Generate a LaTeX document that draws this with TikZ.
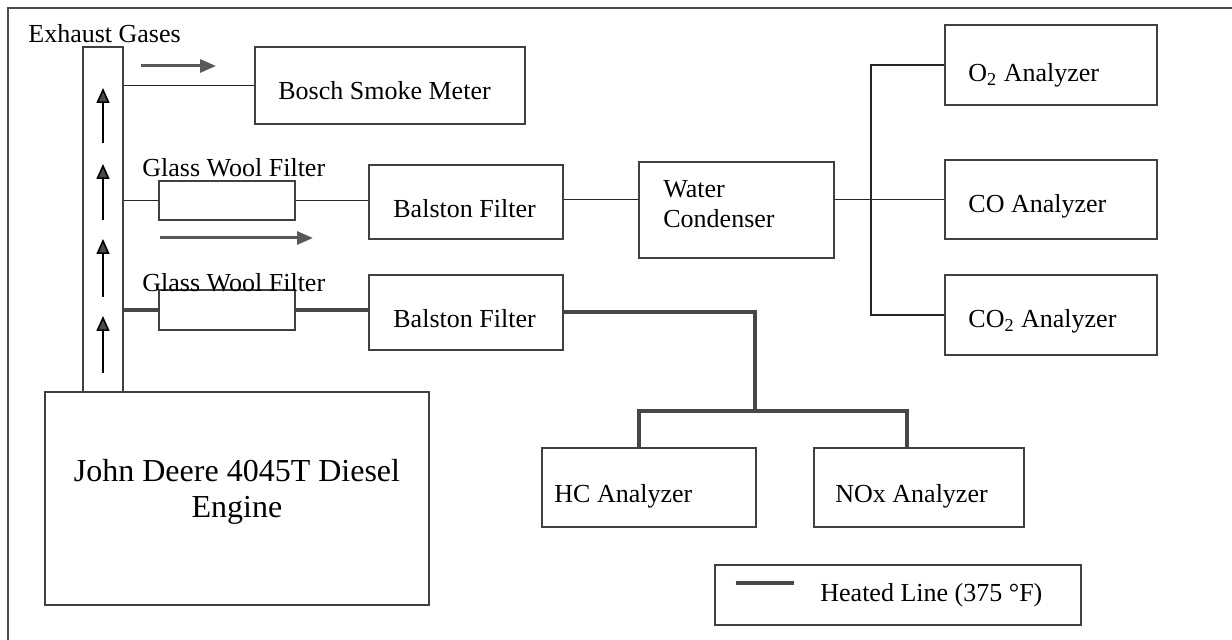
\documentclass[tikz,border=0pt]{standalone}
\usepackage{fontspec}
\setmainfont{Liberation Serif}
\usetikzlibrary{arrows.meta,calc}
\begin{document}
\begin{tikzpicture}[x=0.5pt,y=-0.5pt,
  box/.style={draw=black!75,line width=1.4pt,fill=white,inner sep=0pt},
  lbl/.style={inner sep=0pt,font=\fontsize{13}{15}\selectfont,anchor=base west},
  eng/.style={inner sep=0pt,font=\fontsize{16}{18}\selectfont,anchor=base},
  conn/.style={draw=black!85,line width=0.75pt},
  heated/.style={draw=black!72,line width=2pt},
  flowarrow/.style={draw=black!65,line width=1.5pt,-{Triangle[length=8pt,width=6.5pt]}},
  uparrow/.style={draw=black,line width=0.8pt,-{Triangle[length=7.5pt,width=6.5pt,fill=black!70]}}]
\useasboundingbox (0,0) rectangle (1232,640);
% frame
\draw[draw=black!70,line width=1pt] (8,640) -- (8,8) -- (1232,8);
% boxes
\node[box,line width=1.2pt,minimum width=20pt,minimum height=172.5pt] (stack) at (103,219.5) {};
\node[box,minimum width=135pt,minimum height=38.5pt] (bosch) at (390,85.5) {};
\node[box,minimum width=68pt,minimum height=19.5pt] (filt1) at (227,200.5) {};
\node[box,minimum width=97pt,minimum height=37pt] (bal1) at (466,202) {};
\node[box,minimum width=97.5pt,minimum height=48pt] (water) at (736.5,210) {};
\node[box,minimum width=106pt,minimum height=40pt] (o2) at (1051,65) {};
\node[box,minimum width=106pt,minimum height=39.5pt] (co) at (1051,199.5) {};
\node[box,minimum width=106pt,minimum height=40pt] (co2) at (1051,315) {};
\node[box,minimum width=68pt,minimum height=20pt] (filt2) at (227,310) {};
\node[box,minimum width=97pt,minimum height=37.5pt] (bal2) at (466,312.5) {};
\node[box,minimum width=107pt,minimum height=39.5pt] (hc) at (649,487.5) {};
\node[box,minimum width=105pt,minimum height=39.5pt] (nox) at (919,487.5) {};
\node[box,minimum width=192pt,minimum height=106.5pt] (engine) at (237,498.5) {};
\node[box,minimum width=183pt,minimum height=30pt] (leg) at (898,595) {};
% labels
\node[lbl] (lexh) at (28,43) {Exhaust Gases};
\node[lbl] (lbosch) at (278,100) {Bosch Smoke Meter};
\node[lbl] (lgwf1) at (142,177) {Glass Wool Filter};
\node[lbl] (lgwf2) at (142,292) {Glass Wool Filter};
\node[lbl] (lbal1) at (393,218) {Balston Filter};
\node[lbl] (lbal2) at (393,328) {Balston Filter};
\node[lbl] (lw1) at (663,198) {Water};
\node[lbl] (lw2) at (663,228) {Condenser};
\node[lbl] (lo2) at (968,82) {O\textsubscript{2} Analyzer};
\node[lbl] (lco) at (968,213) {CO Analyzer};
\node[lbl] (lco2) at (968,328) {CO\textsubscript{2} Analyzer};
\node[lbl] (lhc) at (554,503) {HC Analyzer};
\node[lbl] (lnox) at (835,503) {NOx Analyzer};
\node[lbl] (lleg) at (820,602) {Heated Line (375 °F)};
\node[eng] (le1) at (237,482) {John Deere 4045T Diesel};
\node[eng] (le2) at (237,518) {Engine};
% thin connectors
\draw[conn] (bosch.west) -- (bosch.west -| stack.east);
\draw[conn] (filt1.west) -- (filt1.west -| stack.east);
\draw[conn] (filt1.east) -- (filt1.east -| bal1.west);
\draw[conn] (bal1.east |- co.west) -- (water.west |- co.west);
\draw[conn] (water.east |- co.west) -- (co.west);
\coordinate (br) at (871,199.5);
\draw[conn] (o2.west) -| (br) |- (co2.west);
% heated connectors
\draw[heated] (filt2.west) -- (filt2.west -| stack.east);
\draw[heated] (filt2.east) -- (filt2.east -| bal2.west);
\coordinate (hv) at (755,411);
\coordinate (hl) at (639,411);
\coordinate (hr) at (907,411);
\draw[heated] (bal2.east) -| (hv);
\draw[heated] (hc.north -| hl) |- (hr) -- (nox.north -| hr);
\draw[heated] ($(leg.west)+(22,-12)$) -- ($(leg.west)+(80,-12)$);
% flow arrows
\coordinate (a1s) at (141,66); \coordinate (a1e) at (216,66);
\coordinate (a2s) at (160,238); \coordinate (a2e) at (313,238);
\draw[flowarrow] (a1s) -- (a1e);
\draw[flowarrow] (a2s) -- (a2e);
\coordinate (u1s) at (103,143); \coordinate (u1e) at (103,88);
\coordinate (u2s) at (103,220); \coordinate (u2e) at (103,164);
\coordinate (u3s) at (103,297); \coordinate (u3e) at (103,239);
\coordinate (u4s) at (103,373); \coordinate (u4e) at (103,316);
\draw[uparrow] (u1s) -- (u1e);
\draw[uparrow] (u2s) -- (u2e);
\draw[uparrow] (u3s) -- (u3e);
\draw[uparrow] (u4s) -- (u4e);
\end{tikzpicture}
\end{document}
